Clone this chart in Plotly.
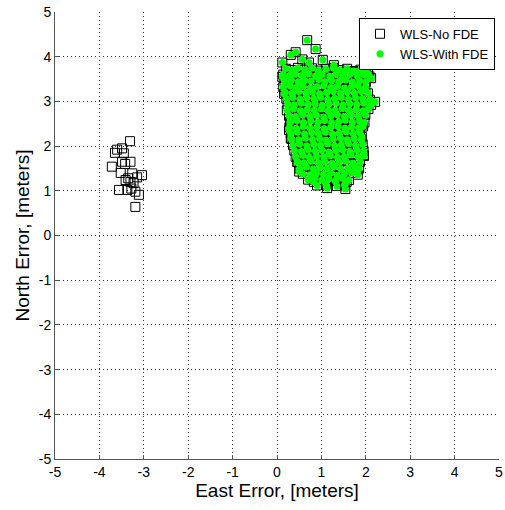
import plotly.graph_objects as go

# Outlier cluster removed by FDE (east, north in meters)
east_outliers = [-3.31, -3.49, -3.65, -3.45, -3.49, -3.30, -3.72, -3.52, -3.26, -3.04, -3.41, -3.30,
                 -3.23, -3.56, -3.37, -3.19, -3.11, -3.19, -3.60, -3.42, -3.35, -3.15, -3.28]
north_outliers = [2.11, 1.95, 1.85, 1.84, 1.65, 1.65, 1.54, 1.40, 1.39, 1.35, 1.24, 1.20,
                  1.17, 1.02, 1.02, 0.98, 0.91, 0.64, 1.92, 1.60, 1.28, 1.30, 1.05]

# Main cluster kept by FDE
east_fde = [
    0.68, 0.87, 0.42, 0.31, 1.03, 0.12, 0.57, 0.72, 1.28, 0.12, 0.16, 2.21, 1.98, 0.27, 0.83, 1.13,
    1.54, 1.57, 1.31, 1.80, 0.50, 0.46, 1.95, 1.91, 1.91, 0.31, 0.31, 2.12, 2.05, 1.50, 1.76,
    0.20, 0.34, 0.47, 0.63, 0.79, 0.93, 1.10, 1.27, 1.41, 1.58, 1.72, 1.88, 2.01,
    0.14, 0.27, 0.41, 0.56, 0.71, 0.87, 1.02, 1.19, 1.33, 1.49, 1.64, 1.81, 1.95, 2.08,
    0.17, 0.32, 0.48, 0.62, 0.77, 0.94, 1.08, 1.23, 1.40, 1.55, 1.70, 1.86, 2.00,
    0.14, 0.29, 0.43, 0.59, 0.75, 0.90, 1.05, 1.21, 1.36, 1.52, 1.68, 1.83, 1.99,
    0.19, 0.34, 0.49, 0.65, 0.80, 0.96, 1.12, 1.27, 1.43, 1.58, 1.74, 1.90, 2.05,
    0.21, 0.36, 0.52, 0.67, 0.83, 0.98, 1.14, 1.30, 1.45, 1.61, 1.77, 1.93, 2.09,
    0.24, 0.39, 0.55, 0.70, 0.86, 1.02, 1.17, 1.33, 1.49, 1.64, 1.80, 1.96, 2.12,
    0.22, 0.37, 0.53, 0.68, 0.84, 1.00, 1.15, 1.31, 1.47, 1.62, 1.78, 1.94, 2.06,
    0.27, 0.42, 0.58, 0.74, 0.89, 1.05, 1.21, 1.36, 1.52, 1.67, 1.83, 1.99,
    0.29, 0.45, 0.60, 0.76, 0.92, 1.07, 1.23, 1.39, 1.54, 1.70, 1.86, 1.97,
    0.28, 0.43, 0.59, 0.74, 0.90, 1.06, 1.21, 1.37, 1.53, 1.68, 1.84, 1.94,
    0.31, 0.46, 0.62, 0.78, 0.93, 1.09, 1.25, 1.40, 1.56, 1.72, 1.87,
    0.33, 0.49, 0.64, 0.80, 0.96, 1.11, 1.27, 1.43, 1.58, 1.74, 1.90,
    0.36, 0.51, 0.67, 0.83, 0.98, 1.14, 1.30, 1.45, 1.61, 1.77, 1.93,
    0.39, 0.55, 0.70, 0.86, 1.01, 1.17, 1.33, 1.48, 1.64, 1.80, 1.95,
    0.42, 0.58, 0.73, 0.89, 1.05, 1.20, 1.36, 1.52, 1.67, 1.83, 1.96,
    0.46, 0.61, 0.77, 0.93, 1.08, 1.24, 1.40, 1.55, 1.71, 1.87,
    0.51, 0.66, 0.82, 0.97, 1.13, 1.29, 1.44, 1.60, 1.76, 1.85,
    0.58, 0.74, 0.89, 1.05, 1.21, 1.36, 1.52, 1.68, 1.82,
    0.70, 0.86, 1.01, 1.17, 1.33, 1.48, 1.62,
    0.90, 1.10, 1.35, 1.52,
]
north_fde = [
    4.37, 4.17, 4.10, 4.04, 3.93, 3.87, 3.94, 3.87, 3.81, 3.55, 3.17, 2.99, 3.59, 2.36, 1.20, 1.06,
    1.04, 1.20, 1.22, 1.47, 1.43, 1.65, 1.80, 2.21, 2.47, 2.17, 2.55, 3.52, 3.62, 3.66, 3.66,
    3.73, 3.70, 3.75, 3.71, 3.74, 3.69, 3.72, 3.75, 3.70, 3.73, 3.68, 3.71, 3.66,
    3.60, 3.57, 3.61, 3.58, 3.62, 3.57, 3.60, 3.56, 3.61, 3.58, 3.60, 3.57, 3.61, 3.56,
    3.45, 3.48, 3.44, 3.47, 3.45, 3.49, 3.44, 3.47, 3.45, 3.48, 3.43, 3.46, 3.44,
    3.32, 3.35, 3.31, 3.34, 3.30, 3.33, 3.35, 3.31, 3.34, 3.30, 3.33, 3.35, 3.31,
    3.20, 3.18, 3.22, 3.19, 3.21, 3.17, 3.20, 3.22, 3.18, 3.21, 3.19, 3.22, 3.18,
    3.06, 3.09, 3.05, 3.08, 3.06, 3.09, 3.05, 3.07, 3.09, 3.05, 3.08, 3.06, 3.04,
    2.94, 2.92, 2.96, 2.93, 2.95, 2.91, 2.94, 2.96, 2.92, 2.95, 2.93, 2.96, 2.92,
    2.80, 2.83, 2.79, 2.82, 2.80, 2.83, 2.79, 2.81, 2.84, 2.80, 2.82, 2.79, 2.83,
    2.68, 2.66, 2.70, 2.67, 2.69, 2.65, 2.68, 2.70, 2.66, 2.69, 2.67, 2.70,
    2.54, 2.57, 2.53, 2.56, 2.54, 2.57, 2.53, 2.55, 2.58, 2.54, 2.56, 2.53,
    2.42, 2.40, 2.44, 2.41, 2.43, 2.39, 2.42, 2.44, 2.40, 2.43, 2.41, 2.44,
    2.28, 2.31, 2.27, 2.30, 2.28, 2.31, 2.27, 2.29, 2.32, 2.28, 2.30,
    2.16, 2.14, 2.18, 2.15, 2.17, 2.13, 2.16, 2.18, 2.14, 2.17, 2.15,
    2.02, 2.05, 2.01, 2.04, 2.02, 2.05, 2.01, 2.03, 2.06, 2.02, 2.04,
    1.90, 1.88, 1.92, 1.89, 1.91, 1.87, 1.90, 1.92, 1.88, 1.91, 1.89,
    1.76, 1.79, 1.75, 1.78, 1.76, 1.79, 1.75, 1.77, 1.80, 1.76, 1.78,
    1.64, 1.62, 1.66, 1.63, 1.65, 1.61, 1.64, 1.66, 1.62, 1.65,
    1.50, 1.53, 1.49, 1.52, 1.50, 1.53, 1.49, 1.51, 1.54, 1.50,
    1.38, 1.36, 1.40, 1.37, 1.39, 1.35, 1.38, 1.40, 1.36,
    1.25, 1.28, 1.24, 1.27, 1.25, 1.28, 1.24,
    1.12, 1.14, 1.11, 1.13,
]

axis_ticks = [-5, -4, -3, -2, -1, 0, 1, 2, 3, 4, 5]
series_names = ["WLS-No FDE", "WLS-With FDE"]

east_nofde = east_outliers + east_fde
north_nofde = north_outliers + north_fde

FONT = "Arial, Liberation Sans, Helvetica, sans-serif"

fig = go.Figure()
fig.add_trace(go.Scatter(
    x=east_nofde, y=north_nofde, mode="markers", name=series_names[0],
    marker=dict(symbol="square-open", size=9, color="black", line=dict(width=1, color="black")),
))
fig.add_trace(go.Scatter(
    x=east_fde, y=north_fde, mode="markers", name=series_names[1],
    marker=dict(symbol="circle", size=7, color="#00ff00", line=dict(width=0)),
))

axis_common = dict(
    range=[-5, 5], tickvals=axis_ticks, ticktext=[str(t) for t in axis_ticks],
    showgrid=True, gridcolor="#333333", griddash="1px,3px", gridwidth=1,
    zeroline=False, showline=True, linecolor="#555555", linewidth=1,
    ticks="inside", ticklen=4, tickcolor="#555555",
    tickfont=dict(family=FONT, size=14, color="black"),
    ticklabeloverflow="allow",
    fixedrange=True,
)
fig.update_xaxes(**axis_common, title=dict(text="East Error, [meters]",
                 font=dict(family=FONT, size=19, color="black"), standoff=4))
fig.update_yaxes(**axis_common, title=dict(text="North Error, [meters]",
                 font=dict(family=FONT, size=19, color="black"), standoff=4))

fig.update_layout(
    width=505, height=510,
    margin=dict(l=55, r=2, t=12, b=51),
    plot_bgcolor="white", paper_bgcolor="white",
    legend=dict(x=0.991, y=0.987, xanchor="right", yanchor="top",
                bgcolor="white", bordercolor="black", borderwidth=1,
                font=dict(family=FONT, size=13, color="black"),
                tracegroupgap=0),
    showlegend=True,
)

fig.write_html("out.html")
